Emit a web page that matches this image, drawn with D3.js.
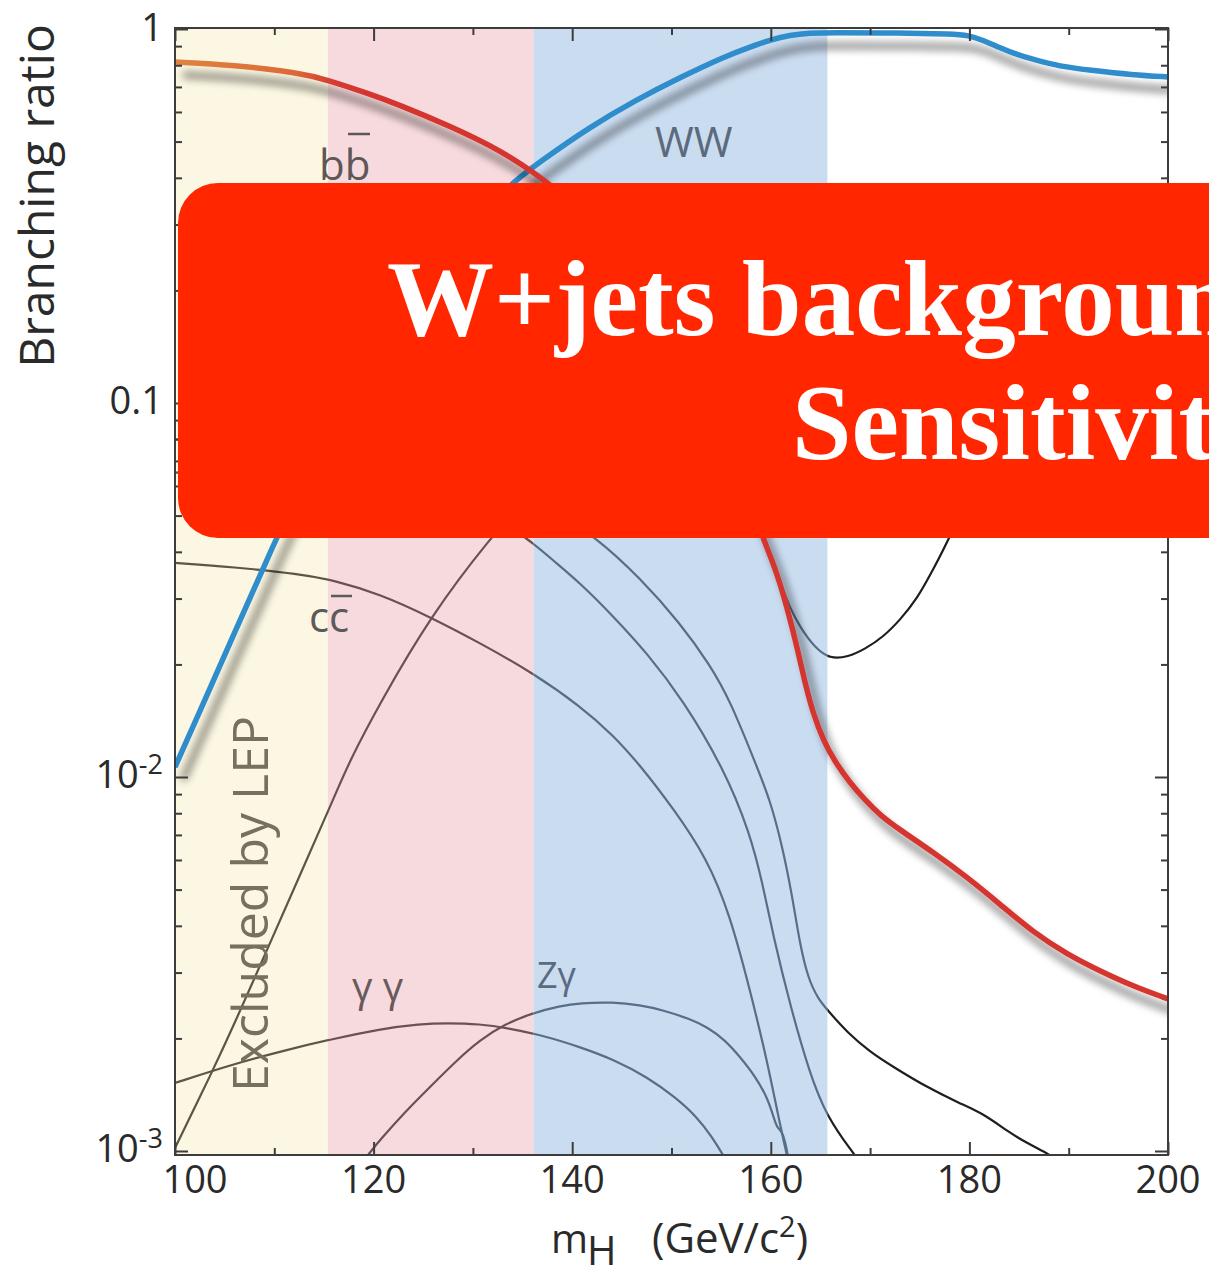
<!DOCTYPE html>
<html>
<head>
<meta charset="utf-8">
<script src="https://cdn.jsdelivr.net/npm/d3@7"></script>
<style>
  html, body { margin: 0; padding: 0; background: #ffffff; }
  svg { display: block; }
</style>
</head>
<body>
<svg id="chart" width="1209" height="1277"></svg>
<script>
// ---------------- DATA ----------------
const xTickValues = [100, 110, 120, 130, 140, 150, 160, 170, 180, 190, 200];
const xTickLabels = ["100", "120", "140", "160", "180", "200"];
const yMajorValues = [1, 0.1, 0.01, 0.001];
const yTickLabels = [["1", ""], ["0.1", ""], ["10", "-2"], ["10", "-3"]];

// shaded mass ranges (GeV)
const bandLEP  = [100, 115.4];
const bandPink = [115.4, 136.1];
const bandBlue = [136.1, 165.7];

// branching ratios [mass GeV, BR]
const bbbar = [[100,0.816],[105.84,0.801],[112.59,0.763],[115.41,0.730],[119.34,0.674],[122.66,0.626],
  [127.69,0.550],[132.73,0.475],[137.26,0.395],[142,0.31],[147,0.22],[152,0.14],[156,0.075],
  [159.21,0.04356],[160.12,0.03803],[160.93,0.03301],[161.83,0.0271],[162.64,0.02227],[163.44,0.01784],
  [164.25,0.01483],[165.26,0.01256],[166.47,0.01097],[167.98,0.00964],[169.49,0.00868],[171.0,0.00791],
  [173.01,0.00722],[176.33,0.0063],[179.76,0.0054],[183.08,0.00457],[186.4,0.00385],[189.83,0.00336],
  [193.15,0.00303],[196.47,0.00276],[200,0.00255]];
const WW = [[100,0.01063],[102.52,0.01502],[105.84,0.02382],[109.26,0.03803],[110.27,0.04382],[114,0.07],
  [118,0.115],[122,0.17],[126,0.23],[130,0.30],[133.64,0.3828],[136.86,0.4436],[141.79,0.547],
  [146.42,0.6457],[150.96,0.7444],[155.49,0.847],[157.91,0.8952],[159.92,0.9346],[161.93,0.9638],
  [163.95,0.9757],[165.96,0.9786],[173.01,0.9757],[178.25,0.9697],[179.86,0.9638],[181.57,0.9288],
  [182.88,0.8952],[185.1,0.847],[187.41,0.8162],[189.63,0.7914],[191.94,0.7771],[196.47,0.7535],[200,0.7444]];
const ccbar = [[100,0.03735],[105.84,0.03644],[112.59,0.0349],[115.91,0.03363],[120.64,0.03085],[125.68,0.02679],
  [130.71,0.02282],[136.05,0.01897],[140.79,0.01548],[144.11,0.01295],[146.83,0.01076],[150.15,0.00826],
  [153.57,0.00607],[155.89,0.00428],[157.91,0.00269],[159.62,0.00175],[160.93,0.001174],[161.73,0.000946]];
const tautau = [[100,0.08],[110,0.078],[120,0.07],[128,0.058],[132,0.05],[135.45,0.04356],[138.27,0.03758],
  [140.79,0.03301],[144.11,0.02695],[147.53,0.02146],[151.16,0.01606],[155.19,0.01063],[157.91,0.00709],
  [159.21,0.00514],[160.22,0.00378],[161.93,0.00246],[163.95,0.0016],[165.66,0.001233],[168.28,0.000988],
  [168.98,0.000935]];
const gluglu = [[100,0.065],[110,0.072],[120,0.073],[130,0.066],[138,0.052],[142.5,0.04356],[146.83,0.03404],
  [150.86,0.02581],[153.88,0.01993],[155.89,0.01606],[158.61,0.01063],[159.92,0.00868],[161.13,0.00658],
  [162.14,0.00484],[162.94,0.00356],[163.75,0.0029],[164.75,0.00255],[165.96,0.00234],[167.67,0.00208],
  [169.99,0.00184],[172.31,0.00168],[175.73,0.00148],[179.05,0.00134],[181.37,0.00126],[184.09,0.001117],
  [185.8,0.00105],[187.81,0.000988],[188.82,0.000946]];
const ZZ = [[100,0.001019],[103.83,0.001646],[105.84,0.002146],[109.26,0.003447],[112.59,0.00547],
  [115.91,0.00868],[117.62,0.0111],[120.64,0.01577],[125.68,0.02679],[131.72,0.04356],[136,0.058],
  [142,0.075],[148,0.085],[153,0.078],[157,0.06],[159.42,0.04356],[160.12,0.03803],[160.93,0.03321],
  [161.93,0.0283],[162.94,0.02518],[164.45,0.02213],[165.96,0.02068],[167.77,0.02094],[169.49,0.02199],
  [171.3,0.02366],[173.01,0.02629],[174.72,0.02991],[176.33,0.03577],[178.05,0.04382],[182,0.075],
  [186,0.14],[190,0.2],[195,0.245],[200,0.265]];
const gamgam = [[100,0.00152],[105.84,0.001708],[111.58,0.001874],[115.91,0.001993],[120.64,0.00212],
  [124.67,0.002186],[127.39,0.002199],[130.71,0.002186],[133.43,0.002133],[137.26,0.00203],[140.79,0.001897],
  [144.31,0.001751],[147.53,0.001577],[150.35,0.001395],[152.57,0.001233],[154.08,0.00109],[155.19,0.000976],
  [155.59,0.000935]];
const Zgam = [[119.44,0.000976],[120.64,0.00107],[123.16,0.001272],[125.68,0.001483],[128.2,0.00173],
  [130.71,0.001981],[133.23,0.002186],[136.05,0.002339],[138.77,0.002441],[140.79,0.002487],[144.11,0.002502],
  [146.83,0.002456],[149.14,0.002382],[151.86,0.002254],[153.57,0.002146],[155.39,0.001981],[156.9,0.001784],
  [158.41,0.001587],[159.62,0.001395],[160.22,0.001248],[160.62,0.001152],[161.13,0.001131],[161.53,0.001037],
  [161.83,0.000935]];

// ---------------- DRAWING ----------------
const svg = d3.select("#chart");
const x = d3.scaleLinear().domain([100, 200]).range([175, 1168]);
const y = d3.scaleLog().domain([1e-3, 1]).range([1151, 29]);
const frameTop = y(1) - 1, frameBottom = y(1e-3) + 4;
const font = "'Open Sans', 'Noto Sans', sans-serif";

const defs = svg.append("defs");
defs.append("clipPath").attr("id", "plotClip").append("rect")
  .attr("x", x(100)).attr("y", frameTop).attr("width", x(200) - x(100)).attr("height", frameBottom - frameTop);

const f = defs.append("filter").attr("id", "shadow")
  .attr("x", "-10%").attr("y", "-10%").attr("width", "130%").attr("height", "130%");
f.append("feGaussianBlur").attr("in", "SourceAlpha").attr("stdDeviation", 4.5).attr("result", "b");
f.append("feOffset").attr("in", "b").attr("dx", 8).attr("dy", 13).attr("result", "o");
f.append("feComponentTransfer").attr("in", "o").attr("result", "s")
  .append("feFuncA").attr("type", "linear").attr("slope", 0.55);
const fm = f.append("feMerge");
fm.append("feMergeNode").attr("in", "s");
fm.append("feMergeNode").attr("in", "SourceGraphic");

const grad = defs.append("linearGradient").attr("id", "bbGrad")
  .attr("gradientUnits", "userSpaceOnUse")
  .attr("x1", x(100)).attr("x2", x(120)).attr("y1", 0).attr("y2", 0);
grad.append("stop").attr("offset", 0).attr("stop-color", "#e08340");
grad.append("stop").attr("offset", 0.6).attr("stop-color", "#dc6a37");
grad.append("stop").attr("offset", 0.8).attr("stop-color", "#d43a30");
grad.append("stop").attr("offset", 1).attr("stop-color", "#d4352f");

// bands
const bandData = [[bandLEP, "#fbf7e2"], [bandPink, "#f7dadd"], [bandBlue, "#cadcf0"]];
svg.append("g").selectAll("rect").data(bandData).join("rect")
  .attr("x", d => x(d[0][0])).attr("width", d => x(d[0][1]) - x(d[0][0]))
  .attr("y", frameTop).attr("height", frameBottom - frameTop)
  .attr("fill", d => d[1]);

const line = d3.line().x(d => x(d[0])).y(d => y(d[1])).curve(d3.curveBasis);

// thin curves, tinted per shaded region
const thin = [ccbar, tautau, gluglu, ZZ, gamgam, Zgam];
const regions = [[bandLEP, "#5c5648"], [bandPink, "#6a5156"], [bandBlue, "#566e87"], [[bandBlue[1], 200], "#1e1e1e"]];
regions.forEach((r, i) => {
  defs.append("clipPath").attr("id", "reg" + i).append("rect")
    .attr("x", x(r[0][0])).attr("y", frameTop).attr("width", x(r[0][1]) - x(r[0][0])).attr("height", frameBottom - frameTop);
  svg.append("g").attr("clip-path", `url(#reg${i})`)
    .selectAll("path").data(thin).join("path")
    .attr("d", line).attr("fill", "none").attr("stroke", r[1]).attr("stroke-width", 2.2);
});

// thick curves with shadow
const thick = svg.append("g").attr("clip-path", "url(#plotClip)");
thick.append("path").datum(WW).attr("d", line).attr("fill", "none")
  .attr("stroke", "#2f8dca").attr("stroke-width", 5.5).attr("filter", "url(#shadow)");
thick.append("path").datum(bbbar).attr("d", line).attr("fill", "none")
  .attr("stroke", "url(#bbGrad)").attr("stroke-width", 5.5).attr("filter", "url(#shadow)");

// frame
svg.append("rect").attr("x", x(100)).attr("y", frameTop)
  .attr("width", x(200) - x(100)).attr("height", frameBottom - frameTop)
  .attr("fill", "none").attr("stroke", "#3c3c3c").attr("stroke-width", 2);

// ticks via axes
const yAll = y.ticks();
const isMajor = v => yMajorValues.some(m => Math.abs(m - v) / m < 1e-6);
const yMinor = yAll.filter(v => !isMajor(v));
function styleAxis(g) {
  g.select(".domain").remove();
  g.selectAll("line").attr("stroke", "#3c3c3c").attr("stroke-width", 2);
}
svg.append("g").attr("transform", `translate(${x(100)},0)`)
  .call(d3.axisRight(y).tickValues(yMajorValues).tickSize(13).tickFormat("")).call(styleAxis);
svg.append("g").attr("transform", `translate(${x(100)},0)`)
  .call(d3.axisRight(y).tickValues(yMinor).tickSize(7).tickFormat("")).call(styleAxis);
svg.append("g").attr("transform", `translate(${x(200)},0)`)
  .call(d3.axisLeft(y).tickValues(yMajorValues).tickSize(13).tickFormat("")).call(styleAxis);
svg.append("g").attr("transform", `translate(${x(200)},0)`)
  .call(d3.axisLeft(y).tickValues(yMinor).tickSize(7).tickFormat("")).call(styleAxis);
const xMaj = xTickValues.filter(v => v % 20 === 0), xMin = xTickValues.filter(v => v % 20 !== 0);
[[xMaj, 13], [xMin, 7]].forEach(([vals, len]) => {
  svg.append("g").attr("transform", `translate(0,${frameBottom})`)
    .call(d3.axisTop(x).tickValues(vals).tickSize(len).tickFormat("")).call(styleAxis);
  svg.append("g").attr("transform", `translate(0,${frameTop})`)
    .call(d3.axisBottom(x).tickValues(vals).tickSize(len).tickFormat("")).call(styleAxis);
});

// tick labels
svg.append("g").selectAll("text").data(xMaj).join("text")
  .attr("x", (d, i) => x(d) + (i === 0 ? 20 : 0)).attr("y", 1193)
  .attr("text-anchor", "middle").attr("font-family", font).attr("font-size", 38).attr("fill", "#2a2a2a")
  .text((d, i) => xTickLabels[i]);
const yl = svg.append("g").selectAll("text").data(yMajorValues).join("text")
  .attr("x", 163).attr("y", (d, i) => y(d) + (i === 0 ? 12 : 11))
  .attr("text-anchor", "end").attr("font-family", font).attr("font-size", 38).attr("fill", "#2a2a2a");
yl.append("tspan").text((d, i) => yTickLabels[i][0]);
yl.append("tspan").attr("font-size", 27).attr("dy", -14).text((d, i) => yTickLabels[i][1]);

// axis titles
svg.append("text").attr("transform", "translate(54,196) rotate(-90)")
  .attr("text-anchor", "middle").attr("font-family", font).attr("font-size", 48).attr("fill", "#2a2a2a")
  .text("Branching ratio");
const xt = svg.append("g").attr("font-family", font).attr("fill", "#2a2a2a");
xt.append("text").attr("x", 551).attr("y", 1253).attr("font-size", 40).text("m");
xt.append("text").attr("x", 587).attr("y", 1265).attr("font-size", 40).text("H");
const gev = xt.append("text").attr("x", 652).attr("y", 1253).attr("font-size", 42);
gev.append("tspan").text("(GeV/c");
gev.append("tspan").attr("font-size", 29).attr("dy", -16).text("2");
gev.append("tspan").attr("dy", 16).text(")");

// curve labels
const lab = svg.append("g").attr("font-family", font);
lab.append("text").attr("x", 319).attr("y", 180).attr("font-size", 42).attr("fill", "#5e5658").text("bb");
lab.append("line").attr("x1", 348).attr("x2", 370).attr("y1", 134).attr("y2", 134).attr("stroke", "#5e5658").attr("stroke-width", 2.5);
lab.append("text").attr("x", 655).attr("y", 157).attr("font-size", 42).attr("fill", "#5c6a7e").text("WW");
lab.append("text").attr("x", 309).attr("y", 632).attr("font-size", 42).attr("fill", "#5e5a5a").text("cc");
lab.append("line").attr("x1", 331).attr("x2", 352).attr("y1", 596).attr("y2", 596).attr("stroke", "#5e5a5a").attr("stroke-width", 2.5);
lab.append("text").attr("x", 352).attr("y", 1001).attr("font-size", 40).attr("fill", "#6a5a5c").text("γ γ");
lab.append("text").attr("x", 537).attr("y", 988).attr("font-size", 36).attr("fill", "#5a6a80").text("Zγ");
lab.append("text").attr("transform", "translate(268,1092) rotate(-90)")
  .attr("font-size", 50).attr("fill", "#75705f").text("Excluded by LEP");

// overlay box
svg.append("rect").attr("x", 178).attr("y", 183).attr("width", 1120).attr("height", 355)
  .attr("rx", 40).attr("ry", 40).attr("fill", "#ff2600");
const bt = svg.append("g").attr("font-family", "'Liberation Serif', 'Times New Roman', serif")
  .attr("font-weight", "bold").attr("font-size", 107).attr("fill", "#ffffff");
bt.append("text").attr("x", 387).attr("y", 335).text("W+jets background");
bt.append("text").attr("x", 792).attr("y", 459).text("Sensitivity");
</script>
</body>
</html>
